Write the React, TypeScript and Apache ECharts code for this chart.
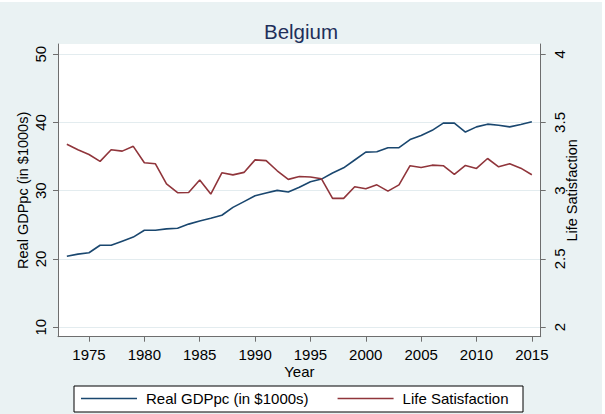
import React, { useEffect, useRef } from "react";
import * as echarts from "echarts";

const years = [
  1973, 1974, 1975, 1976, 1977, 1978, 1979, 1980, 1981, 1982, 1983, 1984, 1985, 1986, 1987,
  1988, 1989, 1990, 1991, 1992, 1993, 1994, 1995, 1996, 1997, 1998, 1999, 2000, 2001, 2002,
  2003, 2004, 2005, 2006, 2007, 2008, 2009, 2010, 2011, 2012, 2013, 2014, 2015,
];
const gdp = [
  20.4, 20.7, 20.9, 22.0, 22.0, 22.6, 23.2, 24.2, 24.2, 24.4, 24.5, 25.1, 25.55, 25.95, 26.4,
  27.55, 28.4, 29.25, 29.65, 30.05, 29.8, 30.5, 31.3, 31.7, 32.6, 33.35, 34.5, 35.65, 35.7, 36.3,
  36.3, 37.5, 38.1, 38.85, 39.9, 39.9, 38.6, 39.35, 39.75, 39.6, 39.35, 39.7, 40.1,
];
const life = [
  3.34, 3.3, 3.265, 3.215, 3.3, 3.29, 3.325, 3.205, 3.197, 3.05, 2.985, 2.987, 3.078, 2.975, 3.131,
  3.116, 3.134, 3.226, 3.22, 3.146, 3.083, 3.104, 3.1, 3.087, 2.944, 2.944, 3.029, 3.014, 3.043, 2.997,
  3.043, 3.183, 3.17, 3.187, 3.183, 3.119, 3.185, 3.163, 3.236, 3.175, 3.197, 3.165, 3.117,
];
const xTicks = [1975, 1980, 1985, 1990, 1995, 2000, 2005, 2010, 2015];
const gdpTicks = [10, 20, 30, 40, 50];
const lifeTicks = [2, 2.5, 3, 3.5, 4];

const FONT = "'Liberation Sans', Arial, sans-serif";
const AXIS = "#6e6e6e";

export default function App() {
  const ref = useRef<HTMLDivElement>(null);
  useEffect(() => {
    document.body.style.margin = "0";
    const chart = echarts.init(ref.current!, null, { renderer: "svg" });
    const gdpData = years.map((y, i) => [y, gdp[i]]);
    const lifeData = years.map((y, i) => [y, life[i]]);
    chart.setOption({
      animation: false,
      backgroundColor: "#eaf2f3",
      textStyle: { fontFamily: FONT },
      title: {
        text: "Belgium",
        left: "center",
        top: 14,
        textStyle: { fontFamily: FONT, fontSize: 20.5, fontWeight: "normal", color: "#1e2f5a" },
      },
      grid: { left: 58, right: 61.3, top: 42, bottom: 77.3, show: true, backgroundColor: "#ffffff", borderWidth: 0 },
      graphic: [
        {
          type: "rect",
          shape: { x: 74, y: 384, width: 449, height: 26 },
          style: { fill: "#ffffff", stroke: "#000000", lineWidth: 1 },
          z: -1,
        },
      ],
      legend: {
        left: 81,
        top: 389,
        padding: 0,
        icon: "rect",
        itemWidth: 56,
        itemHeight: 1.5,
        itemGap: 29,
        textStyle: { fontFamily: FONT, fontSize: 15, color: "#000", padding: [0, 0, 0, 4] },
        data: ["Real GDPpc (in $1000s)", "Life Satisfaction"],
      },
      xAxis: {
        type: "value",
        min: 1972.2,
        max: 2015.8,
        name: "Year",
        nameLocation: "middle",
        nameGap: 27,
        nameMoveOverlap: false,
        nameTextStyle: { fontFamily: FONT, fontSize: 15, color: "#000" },
        axisLine: { show: true, lineStyle: { color: AXIS, width: 1 } },
        axisTick: { show: true, length: 5, lineStyle: { color: AXIS }, customValues: xTicks },
        axisLabel: {
          fontFamily: FONT,
          fontSize: 15,
          color: "#000",
          margin: 10,
          customValues: xTicks,
          formatter: (v: number) => String(v),
        },
        splitLine: { show: false },
      },
      yAxis: [
        {
          type: "value",
          min: 8.6,
          max: 51.5,
          position: "left",
          name: "Real GDPpc (in $1000s)",
          nameLocation: "middle",
          nameRotate: 90,
          nameGap: 27.5,
          nameMoveOverlap: false,
          nameTextStyle: { fontFamily: FONT, fontSize: 14.5, color: "#000" },
          axisLine: { show: true, lineStyle: { color: AXIS, width: 1 } },
          axisTick: { show: true, length: 5, lineStyle: { color: AXIS }, customValues: gdpTicks },
          axisLabel: {
            rotate: 90,
            fontFamily: FONT,
            fontSize: 15,
            color: "#000",
            margin: 10,
            customValues: gdpTicks,
            formatter: (v: number) => String(v),
          },
          splitLine: { show: true, lineStyle: { color: "#e3ecef", width: 1 } },
        },
        {
          type: "value",
          min: 1.93,
          max: 4.075,
          position: "right",
          name: "Life Satisfaction",
          nameLocation: "middle",
          nameRotate: 90,
          nameGap: 24,
          nameMoveOverlap: false,
          nameTextStyle: { fontFamily: FONT, fontSize: 14.5, color: "#000" },
          axisLine: { show: true, lineStyle: { color: AXIS, width: 1 } },
          axisTick: { show: true, length: 5, lineStyle: { color: AXIS }, customValues: lifeTicks },
          axisLabel: {
            rotate: 90,
            fontFamily: FONT,
            fontSize: 15,
            color: "#000",
            margin: 11,
            customValues: lifeTicks,
            formatter: (v: number) => String(v),
          },
          splitLine: { show: false },
        },
      ],
      series: [
        {
          name: "Real GDPpc (in $1000s)",
          type: "line",
          yAxisIndex: 0,
          data: gdpData,
          symbol: "none",
          lineStyle: { color: "#1a476f", width: 1.6 },
          itemStyle: { color: "#1a476f" },
        },
        {
          name: "Life Satisfaction",
          type: "line",
          yAxisIndex: 1,
          data: lifeData,
          symbol: "none",
          lineStyle: { color: "#90353b", width: 1.6 },
          itemStyle: { color: "#90353b" },
        },
      ],
    });
    return () => chart.dispose();
  }, []);
  return (
    <div style={{ width: 605, height: 414, background: "#ffffff", position: "relative" }}>
      <div ref={ref} style={{ position: "absolute", left: 0, top: 2, width: 602, height: 412 }} />
    </div>
  );
}
